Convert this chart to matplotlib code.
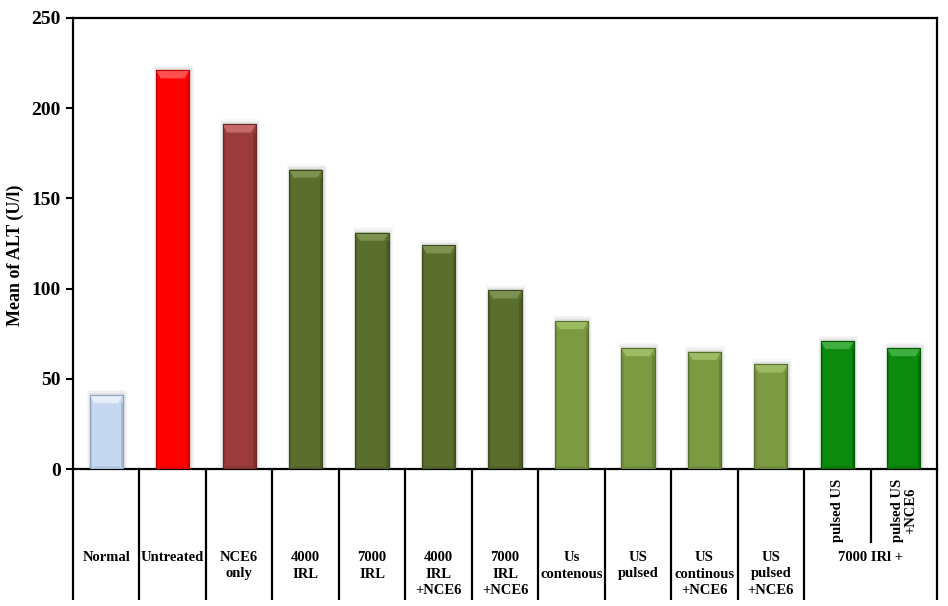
import numpy as np
import matplotlib
matplotlib.use('Agg')
import matplotlib.pyplot as plt
from matplotlib.patches import Polygon, Rectangle
import matplotlib.transforms as mtransforms

### Data.
labels = ['Normal', 'Untreated', 'NCE6\nonly', '4000\nIRL', '7000\nIRL',
          '4000\nIRL\n+NCE6', '7000\nIRL\n+NCE6', 'Us\ncontenous', 'US\npulsed',
          'US\ncontinous\n+NCE6', 'US\npulsed\n+NCE6', 'pulsed US', 'pulsed US\n+NCE6']
values = [41, 221, 191, 166, 131, 124, 99, 82, 67, 65, 58, 71, 67]
rotated = [False]*11 + [True, True]
group_label = '7000 IRl +'
yticks = [0, 50, 100, 150, 200, 250]

# face, edge, light top bevel
face = ['#c6d8f0', '#ff0000', '#9b3b3b'] + ['#5b6e2e']*4 + ['#7b9a41']*4 + ['#0b8a0b']*2
edge = ['#8aa3c2', '#c00000', '#6a2626'] + ['#3d4b1e']*4 + ['#57712d']*4 + ['#055a05']*2
light = ['#e6eef9', '#ff5050', '#c56a68'] + ['#7d9250']*4 + ['#9cbb62']*4 + ['#40ad40']*2

plt.rcParams['font.family'] = ['Liberation Serif', 'DejaVu Serif']
plt.rcParams['font.weight'] = 'bold'

fig = plt.figure(figsize=(9.48, 6.06), dpi=100)
ax = fig.add_axes([73/948, 137/606, 864/948, 451/606])

x = np.arange(len(values))
w = 0.5
ax.set_xlim(-0.5, len(values) - 0.5)
ax.set_ylim(0, 250)

# soft shadow, a few faint layers
vals = np.array(values)
for k, a in [(0.10, 0.05), (0.07, 0.07), (0.04, 0.10)]:
    ax.bar(x + 0.015, vals + k*30, width=w + k, color='#7a7a7a', alpha=a,
           zorder=2, linewidth=0)
ax.bar(x, values, width=w, color=face, edgecolor=edge, linewidth=0.8, zorder=3)

# bevel pieces
dx, dy = 0.07, 4.5
for xi, h, fc, ec, lc in zip(x, values, face, edge, light):
    l, r = xi - w/2, xi + w/2
    ax.add_patch(Polygon([(l, h), (r, h), (r - dx, h - dy), (l + dx, h - dy)],
                         closed=True, facecolor=lc, edgecolor='none', zorder=4))
    ax.add_patch(Rectangle((l, 0), dx*0.5, h - dy, facecolor=ec, alpha=0.25,
                           edgecolor='none', zorder=4))
    ax.add_patch(Rectangle((r - dx*0.5, 0), dx*0.5, h - dy, facecolor=ec, alpha=0.5,
                           edgecolor='none', zorder=4))
    ax.add_patch(Polygon([(l, 0), (r, 0), (r - dx, 1.5), (l + dx, 1.5)],
                         closed=True, facecolor=ec, alpha=0.4, edgecolor='none', zorder=4))
    ax.add_patch(Rectangle((l, 0), w, h, facecolor='none', edgecolor=ec,
                           linewidth=0.8, zorder=5))

# axes styling
for s in ax.spines.values():
    s.set_linewidth(1.6)
    s.set_color('black')
ax.set_yticks(yticks)
ax.tick_params(axis='y', direction='out', length=5, width=1.5, labelsize=14, pad=4)
ax.set_xticks([])
for t in ax.get_yticklabels():
    t.set_fontweight('bold')

fig.text(15/948, 1 - 255/606, 'Mean of ALT (U/l)', rotation=90, ha='center',
         va='center', fontsize=13, fontweight='bold')

# category table below the axis
trans = mtransforms.blended_transform_factory(ax.transData, ax.transAxes)
bottom = -(600 - 469) / 451
for i in range(len(values) + 1):
    xb = i - 0.5
    if i == 12:
        # inner separator inside the group is shorter
        ax.plot([xb, xb], [0, -(543 - 469)/451], transform=trans, color='black',
                lw=1.6, clip_on=False, solid_capstyle='butt')
        continue
    ax.plot([xb, xb], [0, bottom], transform=trans, color='black', lw=1.6,
            clip_on=False, solid_capstyle='butt')

top_y = -(551 - 469) / 451
for xi, lab, rot in zip(x, labels, rotated):
    if rot:
        ax.text(xi, -(542 - 469)/451, lab, transform=trans, rotation=90,
                ha='center', va='bottom', multialignment='center',
                fontsize=10.5, fontweight='bold', linespacing=1.0)
    else:
        ax.text(xi, top_y, lab, transform=trans, ha='center', va='top',
                multialignment='center', fontsize=10.5, fontweight='bold',
                linespacing=1.35)
ax.text(11.5, top_y, group_label, transform=trans, ha='center', va='top',
        fontsize=10.5, fontweight='bold')

fig.savefig('out.png', dpi=100)
